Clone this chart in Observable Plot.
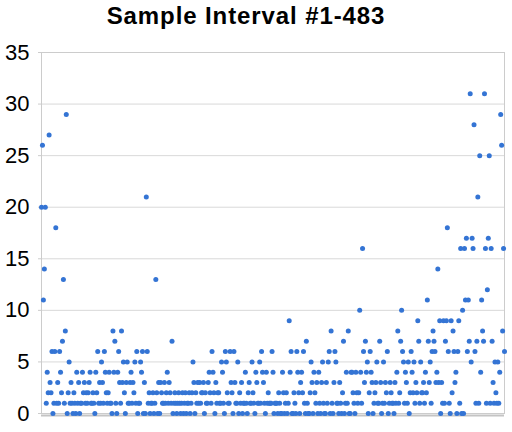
<!DOCTYPE html>
<html>
<head>
<meta charset="utf-8">
<script src="https://cdn.jsdelivr.net/npm/d3@7"></script>
<script src="https://cdn.jsdelivr.net/npm/@observablehq/plot@0.6"></script>
<style>
  body { margin: 0; background: #fff; width: 512px; height: 432px; overflow: hidden; }
  #title { position: relative; height: 40px; width: 512px; }
  #title span { position: absolute; left: 0; width: 492px; top: 4px; text-align: center;
    font-family: "Liberation Sans", Arial, sans-serif; font-weight: bold; font-size: 24px;
    line-height: 24px; letter-spacing: 0.9px; color: #000; }
  #chart svg { display: block; }
</style>
</head>
<body>
<div id="title"><span>Sample Interval #1-483</span></div>
<div id="chart"></div>
<script>
const titleText = "Sample Interval #1-483";
const yTicks = [0, 5, 10, 15, 20, 25, 30, 35];

// Sample values read left-to-right from the reference, in six chunks
const seg1 = [20,26,11,14,20,1,4,2,27,3,2,6,0,1,6,18,1,3,1,6,4,2,7,13,1,8,29,0,2,5,1,3,1,0,2,1,0,4,1,3,0,1,1,4,2,3,1,2,1,2,3,4,1,1,2,1,0,4,2,6,1,3,1,5,3,1,6,4,2,1,2,4,1,1,0,8,4,7,1,0];
const seg2 = [4,6,3,1,8,3,5,2,0,3,5,1,1,3,4,1,3,2,5,1,6,0,1,1,5,4,6,0,3,0,21,6,1,2,0,1,1,2,0,1,13,2,0,3,0,3,2,1,1,3,1,2,4,1,3,2,1,7,0,1,2,1,0,1,2,1,0,1,2,0,1,2,0,1,1,2,0,1,2,5,3,0,2,1];
const seg3 = [3,1,3,1,2,2,3,0,2,1,1,3,4,2,1,6,4,2,0,3,1,2,2,1,1,5,4,1,0,6,5,2,1,1,6,3,2,0,6,3,1,1,5,0,2,1,3,0,1,1,4,1,0,2,3,1,1,5,2,1,0,4,3,1,1,5,1,6,4,3,1,0,4,1,2,1,1,1,6,4,0,1,1];
const seg4 = [1,0,2,1,0,0,4,2,0,1,2,0,1,9,4,6,0,0,2,1,0,6,4,2,0,3,4,2,6,1,0,7,1,0,0,2,5,3,0,4,2,1,3,0,4,1,0,3,5,1,0,0,3,1,5,6,0,8,1,0,3,6,5,1,1,0,3,1,0,2,7,0,1,4,1,8,0,0,4,4,2,1,0];
const seg5 = [4,2,1,2,10,4,1,16,6,3,7,4,5,0,2,6,4,3,0,1,2,3,5,1,1,7,3,0,1,5,1,3,2,6,0,1,3,2,1,1,0,3,1,4,8,1,2,7,10,6,5,1,4,3,1,5,0,2,6,4,2,5,1,3,2,9,7,1,5,2,2,3,1,4,2,11,7,3,5,1,6];
const seg6 = [8,7,6,3,4,14,3,9,0,3,1,9,1,7,9,18,6,1,0,9,2,8,6,3,4,0,6,9,1,16,0,10,0,16,11,17,6,11,7,31,5,17,16,28,6,1,7,21,1,25,4,11,8,7,31,16,1,12,17,25,1,16,7,3,1,5,2,1,5,1,4,29,26,8,16,6];

const values = [...seg1, ...seg2, ...seg3, ...seg4, ...seg5, ...seg6];
const data = values.map((v, i) => ({sample: i + 1, value: v}));

const chart = Plot.plot({
  width: 512,
  height: 392,
  marginTop: 12,
  marginBottom: 19,
  marginLeft: 41,
  marginRight: 8,
  style: {fontFamily: "'Liberation Sans', Arial, sans-serif", background: "#fff", color: "#000"},
  x: {domain: [1, values.length], axis: null},
  y: {domain: [0, 35], ticks: yTicks, label: null},
  marks: [
    Plot.gridY(yTicks, {stroke: "#d9d9d9", strokeOpacity: 1}),
    Plot.frame({stroke: "#cccccc"}),
    Plot.ruleY([0], {stroke: "#c4c4c4", strokeWidth: 2, dy: 2}),
    Plot.axisY(yTicks, {tickSize: 3, tickPadding: 9, fontSize: 22, stroke: "#cccccc", fill: "#000", label: null}),
    Plot.dot(data, {x: "sample", y: "value", r: 2.5, fill: "#3474d4", stroke: "none"})
  ]
});
document.getElementById("chart").appendChild(chart);
</script>
</body>
</html>
